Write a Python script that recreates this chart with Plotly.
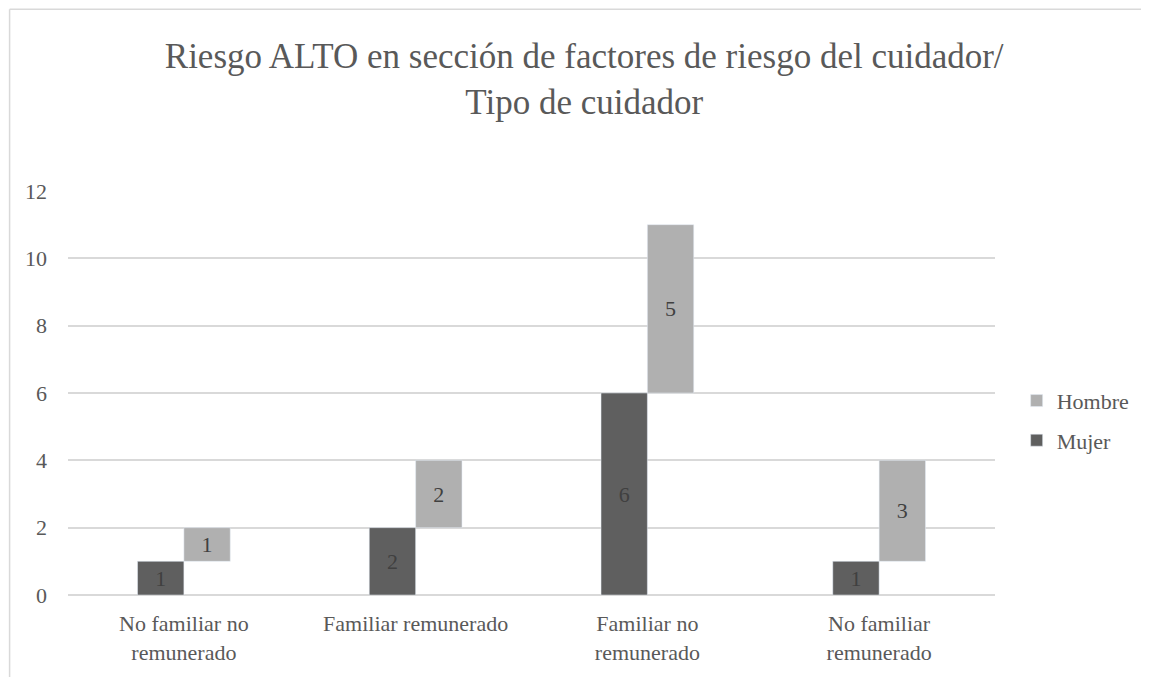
import plotly.graph_objects as go

categories = [
    "No familiar no<br>remunerado",
    "Familiar remunerado",
    "Familiar no<br>remunerado",
    "No familiar<br>remunerado",
]
mujer = [1, 2, 6, 1]
hombre = [1, 2, 5, 3]

FONT = "Liberation Serif, serif"
TEXT = "#595959"

fig = go.Figure()
fig.add_trace(
    go.Bar(
        name="Mujer",
        legendgroup="m",
        legendrank=2,
        x=categories,
        y=mujer,
        marker_color="#5f5f5f",
        text=mujer,
        textposition="inside",
        insidetextanchor="middle",
        textfont=dict(color="#404040", size=22, family=FONT),
    )
)
fig.add_trace(
    go.Bar(
        name="Hombre",
        legendgroup="h",
        legendrank=1,
        x=categories,
        y=hombre,
        base=mujer,
        marker_color="#b0b0b0",
        text=hombre,
        textposition="inside",
        insidetextanchor="middle",
        textfont=dict(color="#404040", size=22, family=FONT),
    )
)

# the page adds an 8px body margin, so the figure is sized to fit inside it
fig.update_layout(
    width=1141,
    height=669,
    barmode="group",
    bargap=0.6,
    bargroupgap=0,
    plot_bgcolor="white",
    paper_bgcolor="white",
    font=dict(family=FONT, color=TEXT, size=22),
    uniformtext=dict(minsize=22, mode="show"),
    title=dict(
        text="Riesgo ALTO en sección de factores de riesgo del cuidador/<br>Tipo de cuidador",
        x=0.505,
        xanchor="center",
        y=0.91,
        yanchor="middle",
        font=dict(size=35, color=TEXT, family=FONT),
    ),
    margin=dict(l=60, r=154, t=183, b=82, autoexpand=False),
    legend=dict(
        xref="container",
        yref="container",
        x=0.884,
        y=0.383,
        xanchor="left",
        yanchor="middle",
        traceorder="grouped",
        tracegroupgap=8,
        font=dict(size=22, color=TEXT, family=FONT),
        itemwidth=30,
    ),
    showlegend=True,
)
fig.update_yaxes(
    range=[0, 12],
    dtick=2,
    automargin=False,
    showgrid=True,
    gridcolor="#d9d9d9",
    gridwidth=1.5,
    zeroline=True,
    zerolinecolor="#d9d9d9",
    zerolinewidth=1.5,
    ticks="",
    ticklabelstandoff=20,
    tickfont=dict(size=22, color=TEXT, family=FONT),
)
fig.update_xaxes(
    automargin=False,
    showline=False,
    ticks="",
    ticklabelstandoff=13,
    tickfont=dict(size=22, color=TEXT, family=FONT),
)

# outer chart border (Excel style), partially cropped in the source image
fig.add_shape(
    type="line", xref="paper", yref="paper",
    x0=-0.063, x1=-0.063, y0=1.45, y1=-0.3,
    line=dict(color="#d9d9d9", width=1.5),
)
fig.add_shape(
    type="line", xref="paper", yref="paper",
    x0=-0.063, x1=1.3, y0=1.45, y1=1.45,
    line=dict(color="#d9d9d9", width=1.5),
)

fig.write_html("out.html")
